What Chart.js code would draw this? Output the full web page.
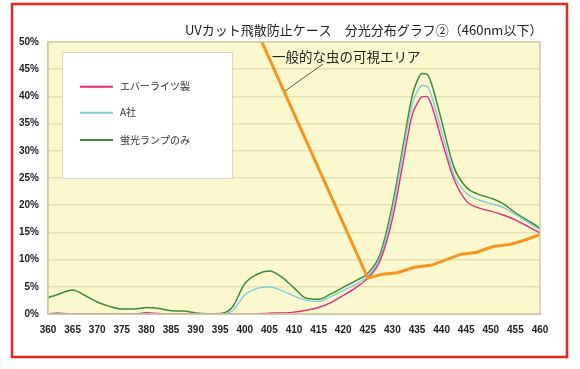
<!DOCTYPE html>
<html>
<head>
<meta charset="utf-8">
<script src="https://cdn.jsdelivr.net/npm/chart.js@4"></script>
<style>
  html, body { margin: 0; padding: 0; background: #ffffff; }
  #wrap { width: 580px; height: 369px; }
</style>
</head>
<body>
<div id="wrap"><canvas id="c" width="580" height="369"></canvas></div>
<script>
// ---- data ----
const chartTitle = "UVカット飛散防止ケース　分光分布グラフ②（460nm以下）";
const areaLabel = "一般的な虫の可視エリア";
const seriesNames = ["エバーライツ製", "A社", "蛍光ランプのみ"];

const wavelengths = [360, 362, 365, 367.5, 370, 372.5, 375, 377.5, 380, 382.5, 385, 387.5, 390, 392.5, 395, 397.5, 400, 402.5, 405, 407.5, 410, 412.5, 415, 417.5, 420, 422.5, 425, 427.5, 430, 432, 434, 435, 436, 437, 438, 440, 442.5, 445, 447.5, 450, 452.5, 455, 457.5, 460];

const everlights = [0.0, 0.15, 0.0, 0.0, 0.0, 0.0, 0.0, 0.0, 0.25, 0.1, 0.0, 0.0, 0.0, 0.0, 0.0, 0.0, 0.0, 0.0, 0.15, 0.2, 0.35, 0.7, 1.2, 2.1, 3.4, 4.8, 6.6, 9.8, 17.5, 27.0, 36.5, 38.6, 39.9, 40.0, 38.3, 32.0, 24.8, 20.8, 19.5, 18.9, 18.2, 17.3, 16.1, 14.9];
const companyA   = [0.0, 0.2, 0.0, 0.0, 0.0, 0.0, 0.0, 0.0, 0.0, 0.0, 0.0, 0.0, 0.0, 0.0, 0.0, 0.6, 3.5, 4.7, 5.0, 4.3, 3.3, 2.5, 2.3, 3.2, 4.3, 5.4, 7.0, 10.3, 19.0, 29.0, 38.5, 40.8, 42.0, 41.9, 40.0, 33.5, 25.6, 22.2, 21.0, 20.3, 19.6, 18.3, 16.9, 15.4];
const lampOnly   = [3.0, 3.6, 4.4, 3.4, 2.2, 1.4, 0.9, 0.9, 1.2, 1.0, 0.6, 0.55, 0.2, 0.05, 0.1, 1.3, 5.6, 7.3, 7.9, 6.8, 4.8, 2.9, 2.7, 3.7, 4.9, 6.1, 7.5, 11.0, 20.0, 30.0, 40.0, 42.8, 44.2, 44.1, 42.2, 35.5, 27.0, 23.3, 22.0, 21.3, 20.3, 18.6, 17.2, 15.8];

const visibleX = [400, 425, 428, 431, 434.5, 438, 441, 444, 447, 450.5, 454, 457, 460];
const visibleY = [57.0, 6.6, 7.3, 7.6, 8.6, 9.0, 10.0, 11.0, 11.3, 12.4, 12.8, 13.6, 14.6];

const xTickStep = 5;
const yTickStep = 5;

// ---- helpers ----
const toPoints = (xs, ys) => xs.map((x, i) => ({ x: x, y: ys[i] }));

const frameAndText = {
  id: 'frameAndText',
  beforeDraw(chart) {
    const { ctx, chartArea: a } = chart;
    ctx.save();
    ctx.fillStyle = '#ffffff';
    ctx.fillRect(0, 0, chart.width, chart.height);
    ctx.fillStyle = '#FBF8CE';
    ctx.fillRect(a.left, a.top, a.right - a.left, a.bottom - a.top);
    ctx.restore();
  },
  beforeDatasetsDraw(chart) {
    const { ctx, chartArea: a } = chart;
    // legend box inside the plot
    ctx.save();
    const bx = a.left + 14, by = a.top + 10, bw = 171, bh = 127;
    ctx.fillStyle = '#ffffff';
    ctx.fillRect(bx, by, bw, bh);
    ctx.strokeStyle = '#d8d6c8';
    ctx.lineWidth = 1;
    ctx.strokeRect(bx + 0.5, by + 0.5, bw - 1, bh - 1);
    const rows = [44.7, 70.7, 98];
    ctx.font = '10px "Noto Sans CJK JP"';
    ctx.textBaseline = 'middle';
    ctx.textAlign = 'left';
    for (let i = 0; i < 3; i++) {
      const ds = chart.data.datasets[i];
      const y = a.top + rows[i];
      ctx.strokeStyle = ds.borderColor;
      ctx.lineWidth = 2;
      ctx.beginPath();
      ctx.moveTo(a.left + 32, y);
      ctx.lineTo(a.left + 65, y);
      ctx.stroke();
      ctx.fillStyle = '#333333';
      ctx.fillText(ds.label, a.left + 72, y);
    }
    ctx.restore();
  },
  afterDraw(chart) {
    const { ctx, chartArea: a } = chart;
    ctx.save();
    // plot frame
    ctx.strokeStyle = '#CFCBA6';
    ctx.lineWidth = 1.5;
    ctx.strokeRect(a.left, a.top, a.right - a.left, a.bottom - a.top);
    // title
    ctx.fillStyle = '#222222';
    ctx.font = '13px "Noto Sans CJK JP"';
    ctx.textBaseline = 'middle';
    ctx.textAlign = 'left';
    ctx.fillText(chartTitle, 185, 30);
    // area annotation
    ctx.font = '13.5px "Noto Sans CJK JP"';
    ctx.fillText(areaLabel, 272, 57);
    ctx.strokeStyle = '#333333';
    ctx.lineWidth = 0.8;
    ctx.beginPath();
    ctx.moveTo(323, 64);
    ctx.lineTo(285, 91);
    ctx.stroke();
    // red outer border
    ctx.strokeStyle = '#E8261E';
    ctx.lineWidth = 2.5;
    ctx.strokeRect(12, 4, 555, 353);
    ctx.restore();
  }
};

new Chart(document.getElementById('c'), {
  type: 'line',
  data: {
    datasets: [
      { label: seriesNames[0], data: toPoints(wavelengths, everlights), borderColor: '#E8287E', borderWidth: 1.4, order: 1, cubicInterpolationMode: 'monotone' },
      { label: seriesNames[1], data: toPoints(wavelengths, companyA), borderColor: '#7DCFDF', borderWidth: 1.4, order: 2, cubicInterpolationMode: 'monotone' },
      { label: seriesNames[2], data: toPoints(wavelengths, lampOnly), borderColor: '#3C8B3A', borderWidth: 1.5, order: 3, cubicInterpolationMode: 'monotone' },
      { label: 'visible', data: toPoints(visibleX, visibleY), borderColor: '#F7941D', borderWidth: 3, order: 0, tension: 0 }
    ]
  },
  options: {
    responsive: false,
    animation: false,
    devicePixelRatio: 1,
    elements: { point: { radius: 0, hoverRadius: 0 } },
    layout: { padding: { left: 0, top: 42, right: 40, bottom: 25 } },
    plugins: { legend: { display: false }, title: { display: false }, tooltip: { enabled: false } },
    scales: {
      x: {
        type: 'linear', min: 360, max: 460,
        grid: { display: false, drawTicks: false },
        border: { display: true, color: '#BDB9A0', width: 1 },
        ticks: { stepSize: xTickStep, padding: 10, color: '#222', font: { family: '"Liberation Sans", Arial', size: 10, weight: 'bold' } },
        afterFit(s) { s.height = 30; }
      },
      y: {
        min: 0, max: 50,
        grid: { color: '#E4E0B6', lineWidth: 1.5, drawTicks: false },
        border: { display: true, color: '#CFCBA6', width: 1.5 },
        ticks: { stepSize: yTickStep, padding: 9, color: '#222', font: { family: '"Liberation Sans", Arial', size: 10, weight: 'bold' }, callback: v => v + '%' },
        afterFit(s) { s.width = 48; }
      }
    }
  },
  plugins: [frameAndText]
});
</script>
</body>
</html>
